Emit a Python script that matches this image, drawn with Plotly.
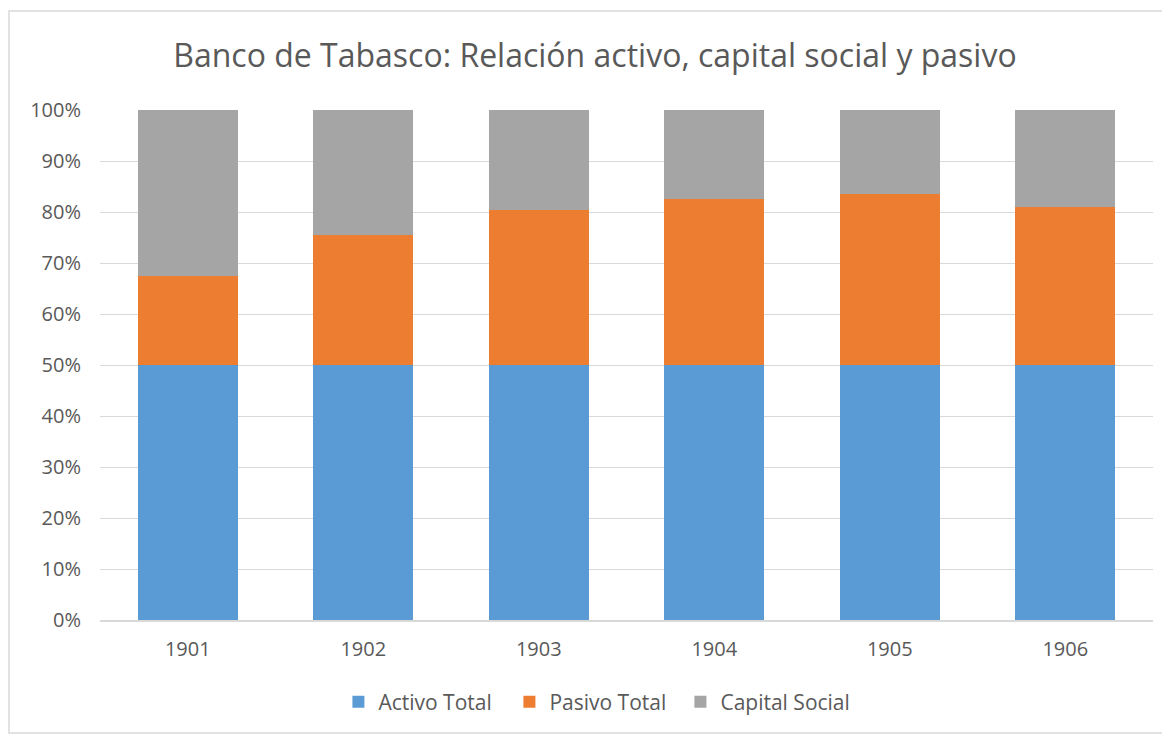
import plotly.graph_objects as go

years = ["1901", "1902", "1903", "1904", "1905", "1906"]
activo = [50, 50, 50, 50, 50, 50]
pasivo = [17.5, 25.5, 30.4, 32.5, 33.6, 31.0]
capital = [32.5, 24.5, 19.6, 17.5, 16.4, 19.0]

colors = {"Activo Total": "#5b9bd5", "Pasivo Total": "#ed7d31", "Capital Social": "#a5a5a5"}

fig = go.Figure()
for name, vals in [("Activo Total", activo), ("Pasivo Total", pasivo), ("Capital Social", capital)]:
    fig.add_trace(go.Bar(x=years, y=vals, name=name, marker_color=colors[name],
                         marker_line_width=0))

font = "Open Sans, Carlito, Calibri, sans-serif"
fig.update_layout(
    barmode="stack",
    barnorm="percent",
    width=1160, height=728,
    margin=dict(l=92, r=15, t=102, b=116),
    paper_bgcolor="white", plot_bgcolor="white",
    title=dict(text="Banco de Tabasco: Relación activo, capital social y pasivo",
               x=0.506, xanchor="center", y=0.9345, yanchor="middle",
               font=dict(family=font, size=32, color="#595959")),
    bargap=0.43,
    legend=dict(orientation="h", x=0.47, xanchor="center", y=-0.161, yanchor="middle",
                font=dict(family=font, size=21, color="#595959"), traceorder="normal",
                entrywidth=126, entrywidthmode="pixels", itemclick=False),
    font=dict(family=font, color="#595959"),
    shapes=[dict(type="rect", xref="paper", yref="paper", x0=-0.0864, x1=1.0114,
                 y0=-0.2216, y1=1.194, line=dict(color="#d9d9d9", width=1.5), layer="below")],
)
fig.update_yaxes(range=[0, 100], dtick=10, ticksuffix="%", gridcolor="#d9d9d9",
                 tickfont=dict(family=font, size=20, color="#595959"), zeroline=False,
                 ticks="", ticklabelstandoff=18)
fig.update_xaxes(showline=True, linecolor="#d9d9d9", linewidth=1.5,
                 tickfont=dict(family=font, size=20, color="#595959"), ticks="",
                 ticklabelstandoff=10)

fig.write_html("out.html")
